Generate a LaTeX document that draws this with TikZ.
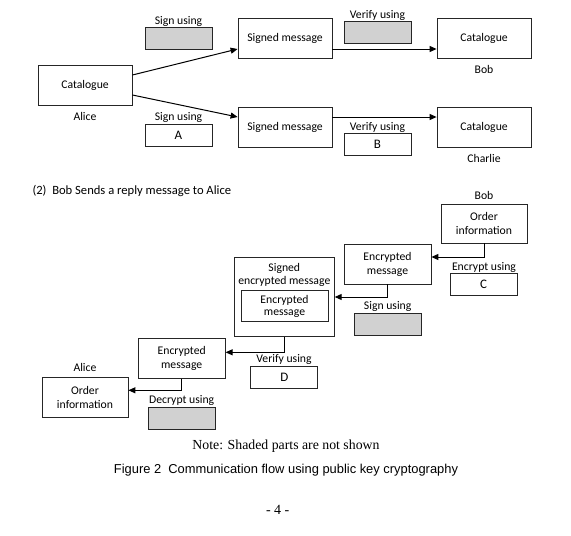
\documentclass[tikz,border=0pt]{standalone}
\usepackage{fontspec}
\setmainfont{Carlito}
\newfontfamily\notefont{Liberation Serif}
\newfontfamily\capfont{Liberation Sans}
\usetikzlibrary{arrows.meta}

\tikzset{
  msgbox/.style={draw=black!85,line width=.8pt,align=center,inner sep=1pt},
  keybox/.style={draw=black!85,line width=.8pt,minimum width=67pt,minimum height=22pt,inner sep=0pt,font=\fontsize{13}{14}\selectfont},
  hiddenkey/.style={keybox,fill=black!18},
  flow/.style={-{Triangle[length=7pt,width=6pt]},line width=1pt},
}

\begin{document}
\begin{tikzpicture}[x=1pt,y=-1pt,font=\fontsize{11.7}{14}\selectfont]
\useasboundingbox (0,0) rectangle (571,536);
% (1) catalogue from Alice to Bob and Charlie
\node[msgbox,minimum width=94pt,minimum height=40pt] (alicecat) at (85,85) {Catalogue};
\node (alicename) at (85,116) {Alice};
\node (signlabel1) at (178.5,21) {Sign using};
\node[hiddenkey] (signkey1) at (178.5,38.5) {};
\node (signlabel2) at (178.5,117) {Sign using};
\node[keybox] (signkey2) at (178.5,135) {A};
\node[msgbox,minimum width=94pt,minimum height=40pt] (signed1) at (285,38) {Signed message};
\node[msgbox,minimum width=94pt,minimum height=40pt] (signed2) at (285,127) {Signed message};
\node (verlabel1) at (377.5,15) {Verify using};
\node[hiddenkey] (verkey1) at (377.5,32) {};
\node (verlabel2) at (377.5,127) {Verify using};
\node[keybox] (verkey2) at (377.5,144) {B};
\node[msgbox,minimum width=94pt,minimum height=40pt] (bobcat) at (484,38) {Catalogue};
\node (bobname) at (484,69) {Bob};
\node[msgbox,minimum width=94pt,minimum height=40pt] (charliecat) at (484,127) {Catalogue};
\node (charliename) at (484,158) {Charlie};
\draw[flow] ([yshift=10pt]alicecat.east) -- ([yshift=-11pt]signed1.west);
\draw[flow] ([yshift=-10pt]alicecat.east) -- ([yshift=10pt]signed2.west);
\draw[flow] ([yshift=-11pt]signed1.east) -- ([yshift=-11pt]bobcat.west);
\draw[flow] ([yshift=10pt]signed2.east) -- ([yshift=10pt]charliecat.west);
% (2) reply from Bob to Alice
\node[anchor=west,font=\fontsize{12.6}{14}\selectfont] (heading) at (29,191) {(2)\ \ Bob Sends a reply message to Alice};
\node (bobname2) at (484,195) {Bob};
\node[msgbox,minimum width=86pt,minimum height=39pt] (bobord) at (484,223.5) {Order\\information};
\node[msgbox,minimum width=87pt,minimum height=40pt] (enc1) at (387.5,264) {Encrypted\\message};
\node (enclabel) at (484,267) {Encrypt using};
\node[keybox] (keyc) at (483.5,284) {C};
\node[msgbox,minimum width=100pt,minimum height=79pt] (outer) at (284.3,297) {};
\node[align=center,font=\fontsize{11.7}{13}\selectfont] (outertext) at (284.3,274.5) {Signed\\encrypted message};
\node[msgbox,minimum width=87pt,minimum height=31pt,font=\fontsize{11.7}{12.5}\selectfont] (inner) at (284.5,306.3) {Encrypted\\message};
\node (signlabel3) at (387.7,306.7) {Sign using};
\node[hiddenkey] (signkey3) at (387.7,324.5) {};
\node[msgbox,minimum width=87pt,minimum height=40pt] (enc2) at (181.7,358.3) {Encrypted\\message};
\node (verlabel3) at (284,359.3) {Verify using};
\node[keybox] (keyd) at (284.3,377.5) {D};
\node (alicename2) at (85,367.7) {Alice};
\node[msgbox,minimum width=86pt,minimum height=40pt] (aliceord) at (85,397.3) {Order\\information};
\node (declabel) at (181.7,400) {Decrypt using};
\node[hiddenkey] (deckey) at (181.7,418.2) {};
\draw[flow] (bobord.south) |- ([yshift=7pt]enc1.east);
\draw[flow] (enc1.south) |- (outer.east);
\draw[flow] (outer.south) |- ([yshift=6pt]enc2.east);
\draw[flow] (enc2.south) |- ([yshift=7pt]aliceord.east);
% notes under the figure
\node[font=\notefont\fontsize{13.8}{16}\selectfont] (note) at (286,446) {Note: Shaded parts are not shown};
\node[font=\capfont\fontsize{12.9}{15}\selectfont] (caption) at (286,470) {Figure 2\ \ Communication flow using public key cryptography};
\node[font=\notefont\fontsize{14}{16}\selectfont] (pagenum) at (277.7,510) {- 4 -};
\end{tikzpicture}
\end{document}
